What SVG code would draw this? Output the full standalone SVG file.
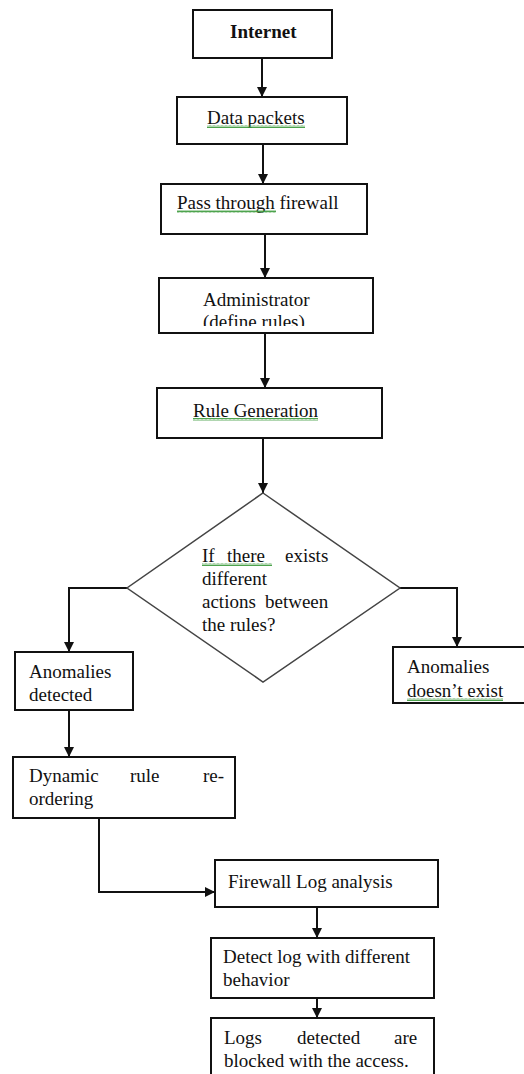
<svg xmlns="http://www.w3.org/2000/svg" width="524" height="1074" viewBox="0 0 524 1074">
<style>
.box{fill:#fff;stroke:#111;stroke-width:2}
.dia{fill:#fff;stroke:#444;stroke-width:1.5}
.t{font-family:"Liberation Serif","Times New Roman",serif;font-size:19px;fill:#111}
.b{font-weight:bold}
.c{fill:none;stroke:#111;stroke-width:2}
.sq{fill:url(#wavy)}
</style>
<defs>
<marker id="ah" viewBox="0 0 10 10" refX="10" refY="5" markerWidth="5" markerHeight="5" orient="auto" markerUnits="strokeWidth">
<path d="M0,0 L10,5 L0,10 z" fill="#111"/>
</marker>
<pattern id="wavy" width="4" height="3" patternUnits="userSpaceOnUse">
<path d="M0,2.5 L1,0.5 L2,2.5 L3,0.5 L4,2.5" fill="none" stroke="#3a9a3a" stroke-width="0.9"/>
</pattern>
<clipPath id="adminClip"><rect x="159" y="278" width="214" height="48"/></clipPath>
</defs>
<rect width="524" height="1074" fill="#fff"/>
<g id="connectors">
<path class="c" d="M262,58 V97" marker-end="url(#ah)"/>
<path class="c" d="M263,144 V184" marker-end="url(#ah)"/>
<path class="c" d="M265,234 V278" marker-end="url(#ah)"/>
<path class="c" d="M265,333 V388" marker-end="url(#ah)"/>
<path class="c" d="M263,438 V493" marker-end="url(#ah)"/>
<path class="c" d="M127,588 H69 V652" marker-end="url(#ah)"/>
<path class="c" d="M400,588 H457 V647" marker-end="url(#ah)"/>
<path class="c" d="M69,710 V757" marker-end="url(#ah)"/>
<path class="c" d="M99,818 V892 H215" marker-end="url(#ah)"/>
<path class="c" d="M317,907 V938" marker-end="url(#ah)"/>
<path class="c" d="M317,998 V1018" marker-end="url(#ah)"/>
</g>
<g id="internet">
<rect class="box" x="193" y="10" width="139" height="48"/>
<text class="t b" x="230" y="38">Internet</text>
</g>
<g id="data-packets">
<rect class="box" x="177" y="97" width="170" height="47"/>
<text class="t" x="207" y="124">Data packets</text>
<rect class="sq" x="207" y="125" width="98" height="3"/>
</g>
<g id="pass-firewall">
<rect class="box" x="161" y="184" width="206" height="50"/>
<text class="t" x="177" y="209">Pass through firewall</text>
<rect class="sq" x="177" y="210" width="99" height="3"/>
</g>
<g id="administrator">
<rect class="box" x="159" y="278" width="214" height="55"/>
<g clip-path="url(#adminClip)">
<text class="t" x="203" y="306">Administrator</text>
<text class="t" x="203" y="328">(define rules)</text>
</g>
</g>
<g id="rule-generation">
<rect class="box" x="157" y="388" width="225" height="50"/>
<text class="t" x="193" y="417">Rule Generation</text>
<rect class="sq" x="193" y="418" width="125" height="3"/>
</g>
<g id="decision">
<path class="dia" d="M263,493 L400,588 L263,682 L127,588 Z"/>
<text class="t" y="562"><tspan x="202">If</tspan><tspan x="227">there</tspan><tspan x="285">exists</tspan></text>
<rect class="sq" x="202" y="563" width="70" height="3"/>
<text class="t" x="202" y="585">different</text>
<text class="t" y="608"><tspan x="202">actions</tspan><tspan x="265">between</tspan></text>
<text class="t" x="202" y="631">the rules?</text>
</g>
<g id="anomalies-detected">
<rect class="box" x="15" y="652" width="118" height="58"/>
<text class="t" x="29" y="678">Anomalies</text>
<text class="t" x="29" y="701">detected</text>
</g>
<g id="anomalies-not-exist">
<rect class="box" x="393" y="647" width="140" height="56"/>
<text class="t" x="407" y="673">Anomalies</text>
<text class="t" x="407" y="697">doesn’t exist</text>
<rect class="sq" x="407" y="698" width="96" height="3"/>
</g>
<g id="dynamic-reordering">
<rect class="box" x="13" y="757" width="222" height="61"/>
<text class="t" y="782"><tspan x="29">Dynamic</tspan><tspan x="130">rule</tspan><tspan x="203">re-</tspan></text>
<text class="t" x="29" y="805">ordering</text>
</g>
<g id="firewall-log">
<rect class="box" x="215" y="860" width="223" height="47"/>
<text class="t" x="228" y="888">Firewall Log analysis</text>
</g>
<g id="detect-log">
<rect class="box" x="211" y="938" width="223" height="60"/>
<text class="t" x="223" y="963">Detect log with different</text>
<text class="t" x="223" y="986">behavior</text>
</g>
<g id="logs-blocked">
<rect class="box" x="211" y="1018" width="223" height="70"/>
<text class="t" y="1044"><tspan x="224">Logs</tspan><tspan x="297">detected</tspan><tspan x="394">are</tspan></text>
<text class="t" x="224" y="1067">blocked with the access.</text>
</g>
</svg>
